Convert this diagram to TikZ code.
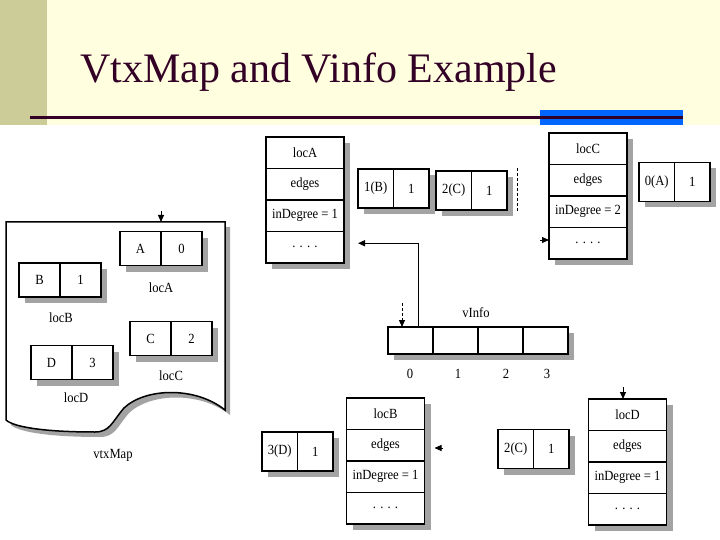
\documentclass[tikz,border=0pt]{standalone}
\usepackage{fontspec}
\setmainfont{Liberation Serif}
\newfontfamily\boxfont[FakeStretch=0.9]{Liberation Serif}
\usetikzlibrary{positioning,shadows,arrows.meta}
\definecolor{hdr}{RGB}{255,255,224}
\definecolor{strip}{RGB}{204,204,153}
\definecolor{ttl}{RGB}{51,0,38}
\definecolor{bluebar}{RGB}{0,102,255}
\definecolor{shadowc}{RGB}{163,163,163}
\begin{document}
\begin{tikzpicture}[x=1pt,y=-1pt,
  cell/.style={draw, line width=1.5pt, fill=white, inner sep=0pt, outer sep=0pt,
    font=\boxfont\fontsize{14}{16}\selectfont,
    general shadow={fill=shadowc, shadow xshift=6pt, shadow yshift=-6pt}},
  vrow/.style={cell, minimum width=78pt, minimum height=31.5pt},
  ecell/.style={cell, minimum width=35.5pt, minimum height=39pt},
  mcell/.style={cell, minimum width=41pt, minimum height=34pt},
  icell/.style={cell, minimum width=45pt, minimum height=27pt},
  lbl/.style={font=\boxfont\fontsize{14}{16}\selectfont, inner sep=0pt},
  arr/.style={-{Triangle[length=7pt,width=6pt]}, line width=1pt},
]
\useasboundingbox (0,0) rectangle (720,540);
\fill[white] (0,0) rectangle (720,540);
% header
\fill[hdr] (0,0) rectangle (720,125);
\fill[strip] (0,0) rectangle (47,125);
\fill[bluebar] (540,110) rectangle (683,125);
\draw[ttl, line width=3pt] (30,118) -- (683,118);
\node[anchor=base west, text=ttl, font=\fontsize{42}{48}\selectfont, inner sep=0pt] (title) at (80,83) {VtxMap and Vinfo Example};

% vtxMap document shape
\fill[shadowc, shift={(5,5)}] (6,222) -- (225,222) -- (225,410)
  .. controls (195,386) and (145,388) .. (124,408)
  .. controls (112,422) and (110,432) .. (95,432)
  .. controls (50,432) and (15,428) .. (6,420) -- cycle;
\draw[line width=1.5pt, fill=white] (6,222) -- (225,222) -- (225,410)
  .. controls (195,386) and (145,388) .. (124,408)
  .. controls (112,422) and (110,432) .. (95,432)
  .. controls (50,432) and (15,428) .. (6,420) -- cycle;
\coordinate (vmTop) at (161,222);
\coordinate (s0) at (161,211);
\draw[arr] (s0) -- (vmTop);

\node[mcell] (mA) at (140.5,248.5) {A};
\node[mcell, right=0pt of mA] (mA0) {0};
\node[mcell] (mB) at (39.5,280) {B};
\node[mcell, right=0pt of mB] (mB1) {1};
\node[mcell] (mC) at (150.5,338.5) {C};
\node[mcell, right=0pt of mC] (mC2) {2};
\node[mcell] (mD) at (51.5,362.5) {D};
\node[mcell, right=0pt of mD] (mD3) {3};
\node[lbl] (lA) at (161,288) {locA};
\node[lbl] (lB) at (61,318) {locB};
\node[lbl] (lC) at (171,376) {locC};
\node[lbl] (lD) at (76,398) {locD};
\node[lbl] (lvm) at (113,455) {vtxMap};

% vertex locA
\node[vrow] (vA1) at (305,152.75) {locA};
\node[vrow, below=0pt of vA1] (vA2) {edges};
\node[vrow, below=0pt of vA2] (vA3) {inDegree = 1};
\node[vrow, below=0pt of vA3] (vA4) {. . . .};
% edges of A
\node[ecell] (eA1) at (375.75,188.5) {1(B)};
\node[ecell, right=0pt of eA1] (eA1w) {1};
\node[ecell] (eA2) at (453.75,190.5) {2(C)};
\node[ecell, right=0pt of eA2] (eA2w) {1};
\coordinate (d1) at (517,168);
\coordinate (d2) at (517,212);
\draw[dashed, dash pattern=on 3pt off 2pt, line width=0.8pt] (d1) -- (d2);

% vertex locC
\node[vrow] (vC1) at (588,148.75) {locC};
\node[vrow, below=0pt of vC1] (vC2) {edges};
\node[vrow, below=0pt of vC2] (vC3) {inDegree = 2};
\node[vrow, below=0pt of vC3] (vC4) {. . . .};
\node[ecell] (eC1) at (656.75,182) {0(A)};
\node[ecell, right=0pt of eC1] (eC1w) {1};
\coordinate (s2) at (540,240);
\draw[arr] (s2) -- (s2 -| vC4.west);

% vInfo
\node[icell] (vi0) at (410.5,340.5) {};
\node[icell, right=0pt of vi0] (vi1) {};
\node[icell, right=0pt of vi1] (vi2) {};
\node[icell, right=0pt of vi2] (vi3) {};
\node[lbl] (lvi) at (476,313) {vInfo};
\node[lbl] (i0) at (410,374) {0};
\node[lbl] (i1) at (458,374) {1};
\node[lbl] (i2) at (506,374) {2};
\node[lbl] (i3) at (547,374) {3};
\coordinate (s1) at (402,303);
\draw[arr, dashed, dash pattern=on 3pt off 2pt] (s1) -- (s1 |- vi0.north);
\draw[arr] ([xshift=7.5pt]vi0.north) |- ([xshift=14pt,yshift=4pt]vA4.east);

% vertex locB
\node[vrow] (vB1) at (385.5,413.75) {locB};
\node[vrow, below=0pt of vB1] (vB2) {edges};
\node[vrow, below=0pt of vB2] (vB3) {inDegree = 1};
\node[vrow, below=0pt of vB3] (vB4) {. . . .};
\node[ecell] (eB1) at (279.75,451.5) {3(D)};
\node[ecell, right=0pt of eB1] (eB1w) {1};
\coordinate (s3) at (443,448);
\draw[arr] (s3) -- ([xshift=10pt]s3 -| vB2.east);

% vertex locD
\node[vrow] (vD1) at (627.5,414.75) {locD};
\node[vrow, below=0pt of vD1] (vD2) {edges};
\node[vrow, below=0pt of vD2] (vD3) {inDegree = 1};
\node[vrow, below=0pt of vD3] (vD4) {. . . .};
\node[ecell] (eD1) at (515.75,449) {2(C)};
\node[ecell, right=0pt of eD1] (eD1w) {1};
\coordinate (s4) at (623,387);
\draw[arr] (s4) -- (s4 |- vD1.north);
\end{tikzpicture}
\end{document}
